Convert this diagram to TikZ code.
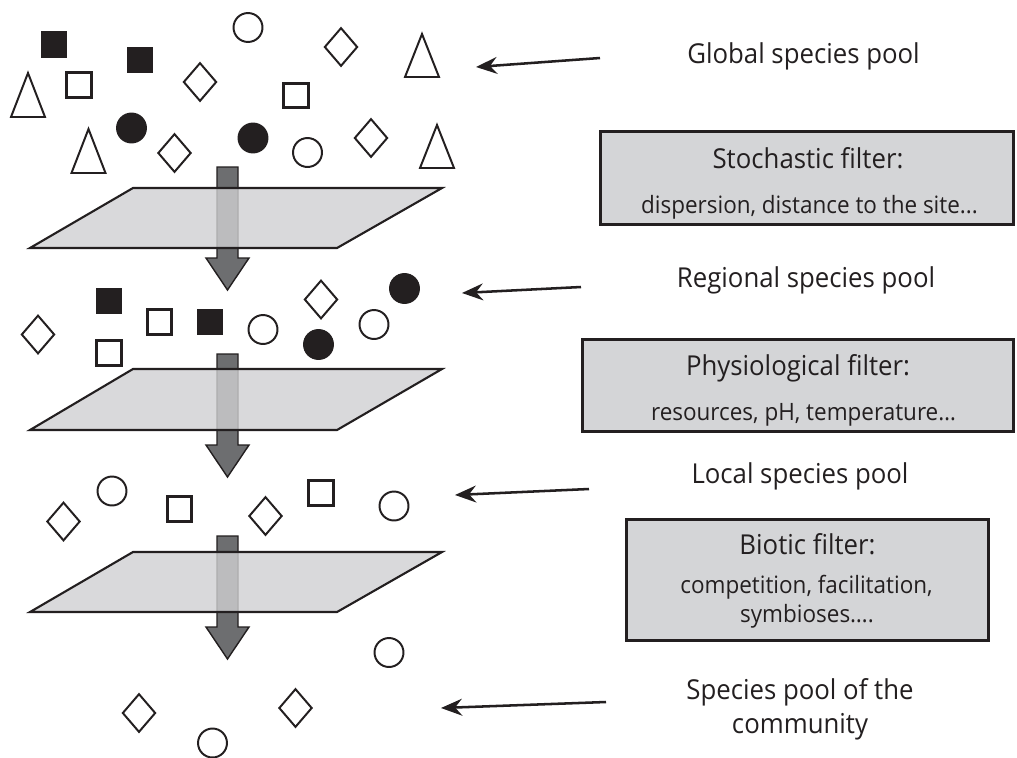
\documentclass[tikz,border=0pt]{standalone}
\usepackage{fontspec}
\setmainfont{Open Sans}[FakeStretch=0.94]
\usetikzlibrary{shapes.geometric,arrows.meta}
\definecolor{ink}{HTML}{231F20}
\definecolor{platefill}{HTML}{D0D0D2}
\definecolor{arrowfill}{HTML}{6D6E70}
\definecolor{boxfill}{HTML}{D4D5D7}
\def\pxl{0.70866pt}
\begin{document}
\begin{tikzpicture}[x=0.025cm,y=-0.025cm,
 osq/.style={rectangle,draw=ink,line width=2.1pt,minimum size=17.7pt,inner sep=0pt},
 fsq/.style={rectangle,fill=ink,minimum size=18.8pt,inner sep=0pt},
 ocir/.style={circle,draw=ink,line width=1.4pt,minimum size=20.6pt,inner sep=0pt},
 fcir/.style={circle,fill=ink,minimum size=22pt,inner sep=0pt},
 dia/.style={diamond,draw=ink,line width=1.4pt,minimum width=23.6pt,minimum height=27.4pt,inner sep=0pt},
 tri/.style={draw=ink,line width=1.4pt,line join=miter},
 plate/.style={draw=ink,line width=1.5pt,fill=platefill,fill opacity=0.8},
 flow/.style={draw=ink,line width=1pt,fill=arrowfill},
 ptr/.style={draw=ink,line width=1.8pt,-{Stealth[length=15pt,width=12pt,inset=5pt]}},
 fbox/.style={rectangle,draw=ink,line width=2.2pt,fill=boxfill,inner sep=0pt},
 lab/.style={anchor=base,text=ink,font=\fontsize{19.5pt}{22pt}\selectfont,inner sep=0pt},
 sublab/.style={anchor=base,text=ink,font=\fontsize{17pt}{20pt}\selectfont,inner sep=0pt}]
\useasboundingbox[fill=white] (0,0) rectangle (1017,757);

% ---- species symbols ----
\foreach \x/\y [count=\i] in {54/44.5, 140/60, 109/301, 210/322}
  \node[fsq] (fs\i) at (\x,\y) {};
\foreach \x/\y [count=\i] in {79/85, 296/95.5, 159.5/322, 109/353, 179.5/509, 321/493}
  \node[osq] (os\i) at (\x,\y) {};
\foreach \x/\y [count=\i] in {248/27.5, 307.5/152.5, 263/329.5, 374/324.5, 112/491, 394/506, 389/652.5, 212.5/743}
  \node[ocir] (oc\i) at (\x,\y) {};
\foreach \x/\y [count=\i] in {131.5/128, 253/138, 404.5/288.5, 318.5/344.5}
  \node[fcir] (fc\i) at (\x,\y) {};
\foreach \x/\y [count=\i] in {200/82, 341/47, 174.5/153, 371/138, 38/334.5, 321/299.5, 63.5/521.5, 265.5/516, 139/713, 295.5/708}
  \node[dia] (di\i) at (\x,\y) {};
\foreach \cx/\ty/\by in {28/70/118, 422/31/78, 88.5/126/174, 437/122/169}
  \draw[tri] (\cx-17,\by-1) -- (\cx,\ty+3) -- (\cx+17,\by-1) -- cycle;

% ---- flow arrows and filter plates ----
\foreach \s/\h/\t in {167/258/290, 354/445/477, 536/627/659}
  \draw[flow] (217,\s) -- (238,\s) -- (238,\h) -- (249,\h) -- (227.5,\t) -- (206,\h) -- (217,\h) -- cycle;
\foreach \tp/\bt in {188/248, 369/430, 552/612}
  \draw[plate] (30,\bt) -- (337,\bt) -- (442,\tp) -- (133,\tp) -- cycle;

% ---- filter boxes ----
\node[fbox, minimum width=415*\pxl, minimum height=93*\pxl] (box1) at (807,178) {};
\node[fbox, minimum width=433*\pxl, minimum height=92*\pxl] (box2) at (798,385.5) {};
\node[fbox, minimum width=364*\pxl, minimum height=121*\pxl] (box3) at (807.5,580) {};

% ---- labels ----
\node[lab] (glob) at (803.5,63) {Global species pool};
\node[lab] (stoch) at (808,168) {Stochastic filter:};
\node[sublab] (stochd) at (809.5,213) {dispersion, distance to the site...};
\node[lab] (reg) at (806,287) {Regional species pool};
\node[lab] (phys) at (798,375) {Physiological filter:};
\node[sublab] (physd) at (803.5,420) {resources, pH, temperature…};
\node[lab] (loc) at (800,483) {Local species pool};
\node[lab] (biot) at (807.5,554) {Biotic filter:};
\node[sublab] (biotd1) at (806.5,593) {competition, facilitation,};
\node[sublab] (biotd2) at (807,622) {symbioses….};
\node[lab] (comm1) at (800,699) {Species pool of the};
\node[lab] (comm2) at (800,733) {community};

% ---- pointers ----
\coordinate (p1s) at (600,58);  \coordinate (p1e) at (476,67);
\coordinate (p2s) at (581,287); \coordinate (p2e) at (462,293);
\coordinate (p3s) at (589,489); \coordinate (p3e) at (455,495);
\coordinate (p4s) at (606,702); \coordinate (p4e) at (441,708);
\draw[ptr] (p1s) -- (p1e);
\draw[ptr] (p2s) -- (p2e);
\draw[ptr] (p3s) -- (p3e);
\draw[ptr] (p4s) -- (p4e);
\end{tikzpicture}
\end{document}
